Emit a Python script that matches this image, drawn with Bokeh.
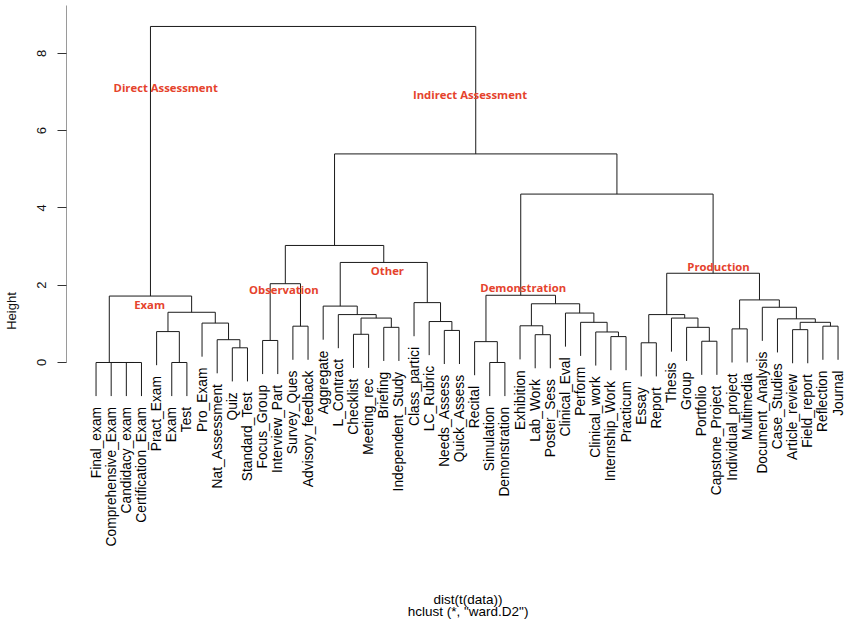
import math
from bokeh.plotting import figure
from bokeh.models import Range1d, FixedTicker
from bokeh.core.properties import value
from bokeh.embed import file_html
from bokeh.resources import INLINE

# ---- data -------------------------------------------------------------
leaves = [
    "Final_exam", "Comprehensive_Exam", "Candidacy_exam", "Certification_Exam",
    "Pract_Exam", "Exam", "Test", "Pro_Exam", "Nat_Assessment", "Quiz",
    "Standard_Test", "Focus_Group", "Interview_Part", "Survey_Ques",
    "Advisory_feedback", "Aggregate", "L_Contract", "Checklist", "Meeting_rec",
    "Briefing", "Independent_Study", "Class_partici", "LC_Rubric",
    "Needs_Assess", "Quick_Assess", "Recital", "Simulation", "Demonstration",
    "Exhibition", "Lab_Work", "Poster_Sess", "Clinical_Eval", "Perform",
    "Clinical_work", "Internship_Work", "Practicum", "Essay", "Report",
    "Thesis", "Group", "Portfolio", "Capstone_Project", "Individual_project",
    "Multimedia", "Document_Analysis", "Case_Studies", "Article_review",
    "Field_report", "Reflection", "Journal",
]

# hclust-style merge matrix: negative = leaf (1-based), positive = earlier merge row
merge_left = [-3, -2, -1, -6, -27, -10, -37, -26, -41, -12, -9, -35, -30, -18,
              -34, -5, -24, -47, -43, -20, -40, -14, -49, -29, -8, -33, 18, -23,
              -46, 14, -39, -17, 7, -32, 16, -45, -16, 24, -22, 19, 3, 8, 10,
              33, 37, 43, 42, 46, 41]
merge_right = [-4, 1, 2, -7, -28, -11, -38, 5, -42, -13, 6, -36, -31, -19,
               12, 4, -25, -48, -44, -21, 9, -15, -50, 13, 11, 15, 23, 17,
               27, 20, 21, 30, 31, 26, 25, 29, 32, 34, 28, 36, 35, 38, 22,
               40, 39, 45, 44, 47, 48]
merge_height = [0.0, 0.0, 0.0, 0.0, 0.0, 0.38, 0.51, 0.54, 0.55, 0.57, 0.59,
                0.67, 0.72, 0.73, 0.79, 0.80, 0.83, 0.85, 0.87, 0.91, 0.91,
                0.94, 0.94, 0.95, 1.02, 1.04, 1.04, 1.06, 1.13, 1.15, 1.15,
                1.24, 1.24, 1.28, 1.30, 1.43, 1.46, 1.52, 1.55, 1.62, 1.72,
                1.74, 2.04, 2.31, 2.59, 3.03, 4.36, 5.40, 8.70]

group_names = ["Direct Assessment", "Indirect Assessment", "Exam", "Observation",
               "Other", "Demonstration", "Production"]
group_x = [5.60, 25.70, 4.54, 13.40, 20.24, 29.21, 42.11]
group_y = [7.13, 6.93, 1.50, 1.88, 2.38, 1.95, 2.49]

y_ticks = [0, 2, 4, 6, 8]
xlab = "dist(t(data))"
sublab = 'hclust (*, "ward.D2")'

# ---- dendrogram geometry ----------------------------------------------
hang = 0.1 * max(merge_height)
node_x, node_h, leaf_end = {}, {}, {}
x0, y0, x1, y1 = [], [], [], []
for k, (a, b, h) in enumerate(zip(merge_left, merge_right, merge_height), start=1):
    ends = []
    for c in (a, b):
        if c < 0:
            cx = float(-c)
            cy = h - hang
            leaf_end[-c] = cy
        else:
            cx = node_x[c]
            cy = node_h[c]
        ends.append((cx, cy))
        x0.append(cx); y0.append(cy); x1.append(cx); y1.append(h)
    x0.append(ends[0][0]); y0.append(h); x1.append(ends[1][0]); y1.append(h)
    node_x[k] = (ends[0][0] + ends[1][0]) / 2.0
    node_h[k] = h

leaf_idx = list(range(1, len(leaves) + 1))
label_y = [leaf_end[i] - 0.28 for i in leaf_idx]

# ---- figure -------------------------------------------------------------
p = figure(width=847, height=621, output_backend="svg", toolbar_location=None,
           title=None, x_axis_location=None, y_axis_location="left",
           x_range=Range1d(-0.951, 50.625), y_range=Range1d(-6.706, 9.372),
           min_border_left=62, min_border_right=0, min_border_top=0,
           min_border_bottom=0)
p.outline_line_color = None
p.xgrid.visible = False
p.ygrid.visible = False
p.background_fill_color = "white"
p.border_fill_color = "white"

ax = p.yaxis[0]
ax.ticker = FixedTicker(ticks=y_ticks)
ax.bounds = (0, 9.24)
ax.axis_line_color = "#9a9a9a"
ax.axis_line_width = 1
ax.major_tick_line_color = "#333333"
ax.major_tick_out = 9
ax.major_tick_in = 0
ax.minor_tick_line_color = None
ax.major_label_orientation = "parallel"
ax.major_label_standoff = 11
ax.major_label_text_font = "Liberation Sans"
ax.major_label_text_font_size = "13px"
ax.major_label_text_color = "#111111"
ax.axis_label = "Height"
ax.axis_label_standoff = 16
ax.axis_label_text_font = "Liberation Sans"
ax.axis_label_text_font_size = "13px"
ax.axis_label_text_font_style = "normal"
ax.axis_label_text_color = "#111111"

p.segment(x0=x0, y0=y0, x1=x1, y1=y1, line_color="#1a1a1a", line_width=1)

p.text(x=leaf_idx, y=label_y, text=leaves, angle=math.pi / 2,
       text_align="right", text_baseline="middle",
       text_font=value("Liberation Sans"), text_font_size="13.8px",
       text_color="#000000")

p.text(x=group_x, y=group_y, text=group_names, text_align="center",
       text_baseline="middle", text_font=value("Open Sans"),
       text_font_style="bold", text_font_size="11.3px", text_color="#e5432d")

p.text(x=[25.57, 25.57], y=[-6.14, -6.45], text=[xlab, sublab],
       text_align="center", text_baseline="middle",
       text_font=value("Liberation Sans"), text_font_size="13.5px",
       text_color="#000000")

open("out.html", "w").write(file_html(p, INLINE))
